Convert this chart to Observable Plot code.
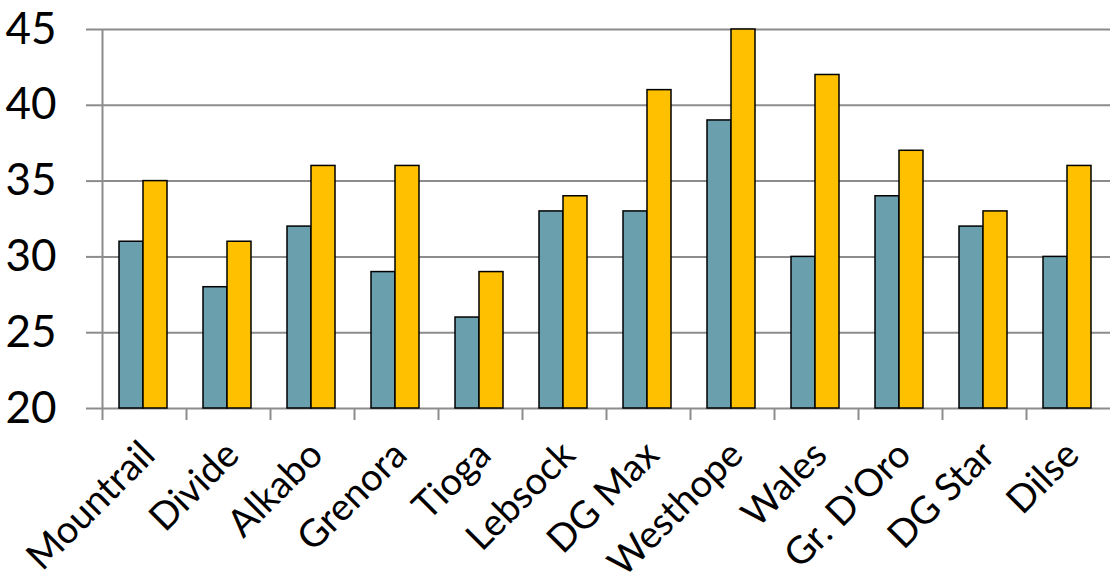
<!DOCTYPE html>
<html>
<head>
<meta charset="utf-8">
<script src="https://cdn.jsdelivr.net/npm/d3@7"></script>
<script src="https://cdn.jsdelivr.net/npm/@observablehq/plot@0.6"></script>
<style>
  html, body { margin: 0; padding: 0; background: #fff; }
  #chart svg { display: block; }
</style>
</head>
<body>
<div id="chart"></div>
<script>
const categories = ["Mountrail", "Divide", "Alkabo", "Grenora", "Tioga", "Lebsock", "DG Max", "Westhope", "Wales", "Gr. D'Oro", "DG Star", "Dilse"];
const seriesA = [31, 28, 32, 29, 26, 33, 33, 39, 30, 34, 32, 30];
const seriesB = [35, 31, 36, 36, 29, 34, 41, 45, 42, 37, 33, 36];
const yTicks = [20, 25, 30, 35, 40, 45];

const rowsA = categories.map((c, i) => ({category: c, value: seriesA[i]}));
const rowsB = categories.map((c, i) => ({category: c, value: seriesB[i]}));

const gridColor = "#8c8c8c";
const font = "Lato, 'Open Sans', sans-serif";

const chart = Plot.plot({
  width: 1112,
  height: 586,
  marginTop: 29,
  marginBottom: 178,
  marginLeft: 102,
  marginRight: 2,
  style: {fontFamily: font, background: "#fff"},
  x: {domain: categories, padding: 0},
  y: {domain: [20, 45]},
  marks: [
    Plot.gridY(yTicks, {stroke: gridColor, strokeOpacity: 1, strokeWidth: 2}),
    Plot.axisY(yTicks, {tickSize: 16, tickPadding: 30, stroke: gridColor, strokeWidth: 2, fontSize: 44, fill: "#000", tickFormat: d => d, label: null}),
    Plot.ruleX([categories[0]], {dx: -42, stroke: gridColor, strokeWidth: 2}),
    Plot.axisX({tickSize: 12, dx: -42, tickFormat: () => "", stroke: gridColor, strokeWidth: 2, label: null}),
    Plot.axisX({tickSize: 0, tickRotate: -45, tickPadding: 40, dx: 4, fontSize: 38, fill: "#000", label: null}),
    Plot.barY(rowsA, {x: "category", y1: 20, y2: "value", fill: "#6a9fae", stroke: "#000", strokeWidth: 1.5, insetLeft: 17, insetRight: 43}),
    Plot.barY(rowsB, {x: "category", y1: 20, y2: "value", fill: "#ffc000", stroke: "#000", strokeWidth: 1.5, insetLeft: 41, insetRight: 19})
  ]
});
document.getElementById("chart").appendChild(chart);
</script>
</body>
</html>
